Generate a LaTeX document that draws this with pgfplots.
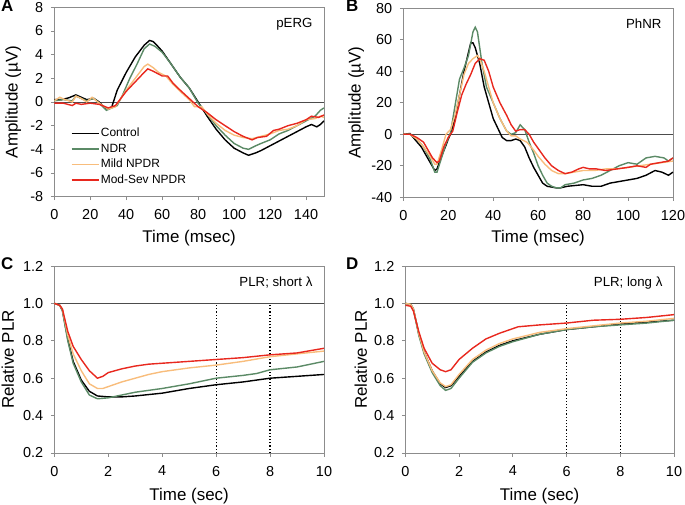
\documentclass[border=0pt]{standalone}
\usepackage{pgfplots}
\pgfplotsset{compat=1.18}
\usepackage{fontspec}
\setmainfont{Liberation Sans}
\definecolor{cctrl}{HTML}{000000}
\definecolor{cndr}{HTML}{5B8A66}
\definecolor{cmild}{HTML}{F8BD7C}
\definecolor{cmod}{HTML}{E8281E}
\definecolor{axgray}{HTML}{8C8C8C}
\pgfplotsset{
  myax/.style={
    scale only axis,
    axis line style={axgray},
    tick style={axgray, line width=0.6bp},
    tick align=outside,
    major tick length=3.5bp,
    xtick pos=bottom, ytick pos=left,
    /pgf/number format/assume math mode=true,
    tick label style={font=\fontsize{14.5}{16}\selectfont},
    xticklabel style={yshift=-6bp},
    yticklabel style={xshift=-4bp},
    every axis plot/.append style={line width=1.4bp},
    clip=true,
  },
  mylab/.style 2 args={
    every axis x label/.style={at={([yshift=-#1]rel axis cs:0.5,0)}, anchor=north, inner sep=0pt, font=\fontsize{17}{19}\selectfont},
    every axis y label/.style={at={([xshift=-#2]rel axis cs:0,0.5)}, rotate=90, anchor=south, inner sep=0pt, font=\fontsize{17}{19}\selectfont},
  },
  zline/.style={line width=0.8bp, color=black!70, forget plot},
  vdot/.style={line width=1.2bp, black, dotted, forget plot},
}
\begin{document}
\begin{tikzpicture}
\path[use as bounding box] (0bp,0bp) rectangle (685bp,505bp);
% ---------------- Panel A ----------------
\begin{axis}[myax, mylab={33bp}{33bp}, at={(54.3bp,308.3bp)}, anchor=south west,
  width=269.7bp, height=189.4bp,
  xmin=0, xmax=150, ymin=-8, ymax=8,
  xtick={0,20,...,140}, ytick={-8,-6,...,8},
  xlabel={Time (msec)}, ylabel={Amplitude (µV)},
  legend style={at={(rel axis cs:0.05,0.38)}, anchor=north west, draw=none, fill=none,
    font=\fontsize{12}{13}\selectfont, row sep=2bp,
    nodes={inner sep=1.5bp, text height=8.5bp, text depth=2bp},
    legend cell align=left},
  legend image code/.code={\draw[#1, line width=1.4bp] (0bp,0bp) -- (27bp,0bp);},
]
\addplot[zline] coordinates {(0,0) (150,0)};
\addplot[cctrl] coordinates {(0,0.2) (4,0.2) (8,0.35) (12,0.6) (15,0.4) (18,0.2) (22,0.3) (25,0) (28,-0.5) (30,-0.6) (32,-0.4) (35,1.0) (38,1.9) (40,2.5) (45,3.8) (50,4.8) (53,5.2) (55,5.1) (57,4.8) (60,4.3) (65,3.2) (70,2.1) (75,1.2) (80,0.0) (85,-1.2) (90,-2.3) (95,-3.2) (100,-3.9) (105,-4.3) (108,-4.5) (110,-4.4) (112,-4.3) (115,-4.1) (120,-3.7) (125,-3.3) (130,-2.9) (135,-2.5) (140,-2.1) (143,-1.9) (146,-2.1) (148,-1.9) (150,-1.6)};
\addlegendentry{Control}
\addplot[cndr] coordinates {(0,0.1) (5,0.2) (10,0.1) (12,0.5) (15,0.3) (18,0.1) (20,0.2) (22,0.3) (25,-0.1) (29,-0.7) (32,-0.5) (35,-0.3) (38,0.6) (42,2.0) (46,3.2) (50,4.5) (53,4.9) (56,4.7) (60,4.2) (65,3.2) (70,2.1) (75,1.2) (80,-0.1) (85,-1.0) (90,-2.0) (95,-2.8) (100,-3.5) (105,-3.9) (108,-4.0) (112,-3.7) (115,-3.5) (120,-3.2) (125,-2.7) (130,-2.4) (135,-2.0) (140,-1.6) (145,-1.2) (148,-0.7) (150,-0.5)};
\addlegendentry{NDR}
\addplot[cmild] coordinates {(0,0.1) (3,0.4) (6,0.2) (10,0.0) (12,0.5) (15,0.3) (18,0.0) (21,0.4) (25,-0.1) (30,-0.6) (34,-0.4) (37,0.3) (40,1.0) (45,2.0) (50,3.0) (52,3.2) (55,2.9) (58,2.5) (62,2.2) (66,1.5) (70,0.9) (75,0.2) (78,-0.4) (82,-0.4) (85,-1.0) (90,-1.8) (95,-2.4) (100,-2.8) (105,-3.0) (110,-3.1) (115,-2.9) (120,-2.7) (125,-2.4) (130,-2.3) (135,-2.0) (140,-1.5) (145,-1.4) (148,-1.2) (150,-1.3)};
\addlegendentry{Mild NPDR}
\addplot[cmod] coordinates {(0,-0.1) (5,-0.1) (10,-0.3) (12,-0.1) (15,-0.2) (20,-0.1) (25,-0.2) (30,-0.5) (34,-0.3) (37,0.3) (40,0.9) (45,1.7) (50,2.5) (52,2.8) (55,2.6) (60,2.2) (63,2.2) (66,1.6) (70,1.0) (75,0.3) (80,-0.4) (85,-0.9) (90,-1.5) (95,-2.0) (100,-2.5) (105,-2.9) (110,-3.2) (113,-3.0) (118,-2.9) (122,-2.4) (125,-2.3) (130,-2.0) (135,-1.8) (140,-1.5) (143,-1.2) (147,-1.3) (150,-1.1)};
\addlegendentry{Mod-Sev NPDR}
\node[anchor=north east, font=\fontsize{13.3}{15}\selectfont] at (rel axis cs:0.97,0.96) {pERG};
\end{axis}
% ---------------- Panel B ----------------
\begin{axis}[myax, mylab={33bp}{39bp}, at={(403.3bp,307.7bp)}, anchor=south west,
  width=269.7bp, height=189bp,
  xmin=0, xmax=120, ymin=-40, ymax=80,
  xtick={0,20,...,120}, ytick={-40,-20,...,80},
  xlabel={Time (msec)}, ylabel={Amplitude (µV)},
]
\addplot[zline] coordinates {(0,0) (120,0)};
\addplot[cctrl] coordinates {(0,0) (3,0.5) (5,-3) (8,-8) (10,-13) (12,-18) (14,-23) (15,-22) (17,-14) (19,-7) (20,-3) (21,0) (23,10) (25,25) (27,40) (29,52) (30,58) (31,58) (32,55) (33,50) (34,45) (36,30) (38,20) (40,10) (42,4) (44,-2) (46,-4) (48,-4) (50,-3) (52,-4) (54,-8) (56,-15) (58,-21) (60,-26) (62,-31) (64,-33) (68,-34) (70,-34) (73,-33) (80,-32) (84,-33) (88,-33) (92,-31) (96,-30) (100,-29) (104,-28) (108,-26) (112,-23) (115,-24) (118,-26) (120,-24)};
\addplot[cndr] coordinates {(0,0) (3,0) (6,-3) (9,-8) (12,-16) (14,-24) (15,-24) (17,-15) (19,-6) (21,1) (23,18) (25,35) (27,42) (29,50) (31,65) (32,68) (33,65) (35,45) (37,30) (40,20) (43,10) (46,2) (48,0) (50,1) (52,6) (54,3) (56,-5) (58,-12) (60,-20) (62,-26) (64,-31) (66,-33) (68,-34) (70,-34) (72,-32) (76,-31) (80,-29) (84,-28) (88,-26) (92,-23) (96,-20) (100,-18) (104,-19) (108,-15) (112,-14) (116,-15) (118,-17) (120,-15)};
\addplot[cmild] coordinates {(0,0) (3,0) (6,-3) (9,-8) (12,-14) (14,-19) (15,-19) (17,-10) (19,0) (21,3) (23,12) (25,25) (27,38) (29,45) (31,48) (33,50) (34,48) (36,40) (38,30) (40,20) (43,10) (46,2) (48,-1) (50,-1) (52,-3) (55,-5) (58,-10) (60,-14) (63,-19) (66,-23) (69,-25) (72,-25) (76,-24) (80,-23) (85,-23) (90,-22) (95,-22) (100,-21) (105,-20) (110,-19) (115,-18) (120,-17)};
\addplot[cmod] coordinates {(0,0) (3,0) (6,-2) (9,-5) (11,-10) (13,-15) (15,-18) (16,-17) (18,-8) (20,-2) (22,2) (24,14) (26,25) (28,32) (30,38) (32,45) (34,48) (36,47) (38,40) (40,30) (43,20) (46,12) (48,6) (50,2) (52,3) (54,3) (56,0) (58,-5) (60,-9) (63,-15) (66,-20) (69,-23) (72,-25) (75,-24) (78,-22) (80,-21) (83,-22) (86,-22) (90,-23) (95,-22) (100,-21) (104,-20) (108,-21) (110,-19) (114,-18) (118,-17) (120,-15)};
\node[anchor=north east, font=\fontsize{13.3}{15}\selectfont] at (rel axis cs:0.97,0.96) {PhNR};
\end{axis}
% ---------------- Panel C ----------------
\begin{axis}[myax, mylab={35bp}{40bp}, at={(54.3bp,52bp)}, anchor=south west,
  width=269.7bp, height=187bp,
  xmin=0, xmax=10, ymin=0.2, ymax=1.2,
  xtick={0,2,...,10}, ytick={0.2,0.4,...,1.2},
  yticklabel style={/pgf/number format/.cd, fixed, fixed zerofill, precision=1},
  xlabel={Time (sec)}, ylabel={Relative PLR},
]
\addplot[zline] coordinates {(0,1) (10,1)};
\addplot[vdot] coordinates {(6,0.2) (6,1)};
\addplot[vdot] coordinates {(8,0.2) (8,1)};
\addplot[cctrl] coordinates {(0,1.0) (0.2,0.99) (0.3,0.965) (0.5,0.81) (0.7,0.69) (1.0,0.59) (1.3,0.53) (1.6,0.505) (2.0,0.50) (2.5,0.50) (3,0.505) (4,0.52) (5,0.545) (6,0.565) (7,0.58) (8,0.60) (9,0.61) (10,0.62)};
\addplot[cndr] coordinates {(0,1.0) (0.2,0.99) (0.3,0.96) (0.5,0.80) (0.7,0.68) (1.0,0.58) (1.3,0.51) (1.6,0.49) (2.0,0.495) (2.5,0.51) (3,0.525) (4,0.545) (5,0.57) (6,0.60) (7,0.615) (7.5,0.625) (8,0.645) (9,0.66) (10,0.69)};
\addplot[cmild] coordinates {(0,1.0) (0.2,0.99) (0.3,0.97) (0.5,0.83) (0.7,0.73) (1.0,0.64) (1.3,0.57) (1.6,0.545) (1.8,0.545) (2,0.555) (2.5,0.58) (3,0.60) (3.5,0.62) (4,0.635) (5,0.655) (6,0.67) (7,0.69) (8,0.715) (9,0.73) (10,0.745)};
\addplot[cmod] coordinates {(0,1.0) (0.2,0.99) (0.3,0.97) (0.5,0.85) (0.7,0.77) (1.0,0.70) (1.3,0.64) (1.6,0.60) (1.8,0.61) (2.0,0.63) (2.5,0.65) (3,0.665) (3.5,0.675) (4,0.68) (5,0.69) (6,0.70) (7,0.71) (8,0.725) (9,0.735) (10,0.76)};
\node[anchor=north east, font=\fontsize{13.3}{15}\selectfont] at (rel axis cs:0.97,0.96) {PLR; short λ};
\end{axis}
% ---------------- Panel D ----------------
\begin{axis}[myax, mylab={35bp}{38bp}, at={(405.3bp,52bp)}, anchor=south west,
  width=268.7bp, height=187bp,
  xmin=0, xmax=10, ymin=0.2, ymax=1.2,
  xtick={0,2,...,10}, ytick={0.2,0.4,...,1.2},
  yticklabel style={/pgf/number format/.cd, fixed, fixed zerofill, precision=1},
  xlabel={Time (sec)}, ylabel={Relative PLR},
]
\addplot[zline] coordinates {(0,1) (10,1)};
\addplot[vdot] coordinates {(6,0.2) (6,1)};
\addplot[vdot] coordinates {(8,0.2) (8,1)};
\addplot[cctrl] coordinates {(0,1.0) (0.2,0.995) (0.3,0.97) (0.5,0.84) (0.7,0.74) (1.0,0.64) (1.3,0.57) (1.5,0.55) (1.7,0.56) (2,0.61) (2.5,0.69) (3,0.74) (3.5,0.775) (4,0.80) (5,0.835) (6,0.86) (7,0.875) (8,0.89) (9,0.90) (10,0.91)};
\addplot[cndr] coordinates {(0,1.0) (0.2,0.995) (0.3,0.97) (0.5,0.83) (0.7,0.73) (1.0,0.63) (1.3,0.56) (1.5,0.535) (1.7,0.545) (2,0.60) (2.5,0.685) (3,0.735) (3.5,0.77) (4,0.795) (5,0.835) (6,0.86) (7,0.875) (8,0.885) (9,0.895) (10,0.91)};
\addplot[cmild] coordinates {(0,1.0) (0.2,0.995) (0.3,0.97) (0.5,0.84) (0.7,0.74) (1.0,0.64) (1.3,0.575) (1.5,0.555) (1.7,0.565) (2,0.62) (2.5,0.70) (3,0.75) (3.5,0.785) (4,0.81) (5,0.845) (6,0.865) (7,0.88) (8,0.895) (9,0.905) (10,0.92)};
\addplot[cmod] coordinates {(0,0.99) (0.2,0.985) (0.3,0.96) (0.5,0.85) (0.7,0.76) (1.0,0.68) (1.3,0.645) (1.5,0.635) (1.7,0.645) (2,0.70) (2.5,0.76) (3,0.81) (3.5,0.84) (4,0.865) (4.2,0.875) (5,0.885) (6,0.895) (7,0.91) (8,0.915) (9,0.925) (10,0.94)};
\node[anchor=north east, font=\fontsize{13.3}{15}\selectfont] at (rel axis cs:0.97,0.96) {PLR; long λ};
\end{axis}
% panel letters
\node[anchor=north west, font=\fontsize{17}{19}\bfseries, inner sep=0] at (1bp,505bp) {A};
\node[anchor=north west, font=\fontsize{17}{19}\bfseries, inner sep=0] at (346bp,505bp) {B};
\node[anchor=north west, font=\fontsize{17}{19}\bfseries, inner sep=0] at (1bp,248bp) {C};
\node[anchor=north west, font=\fontsize{17}{19}\bfseries, inner sep=0] at (346bp,247bp) {D};
\end{tikzpicture}
\end{document}
